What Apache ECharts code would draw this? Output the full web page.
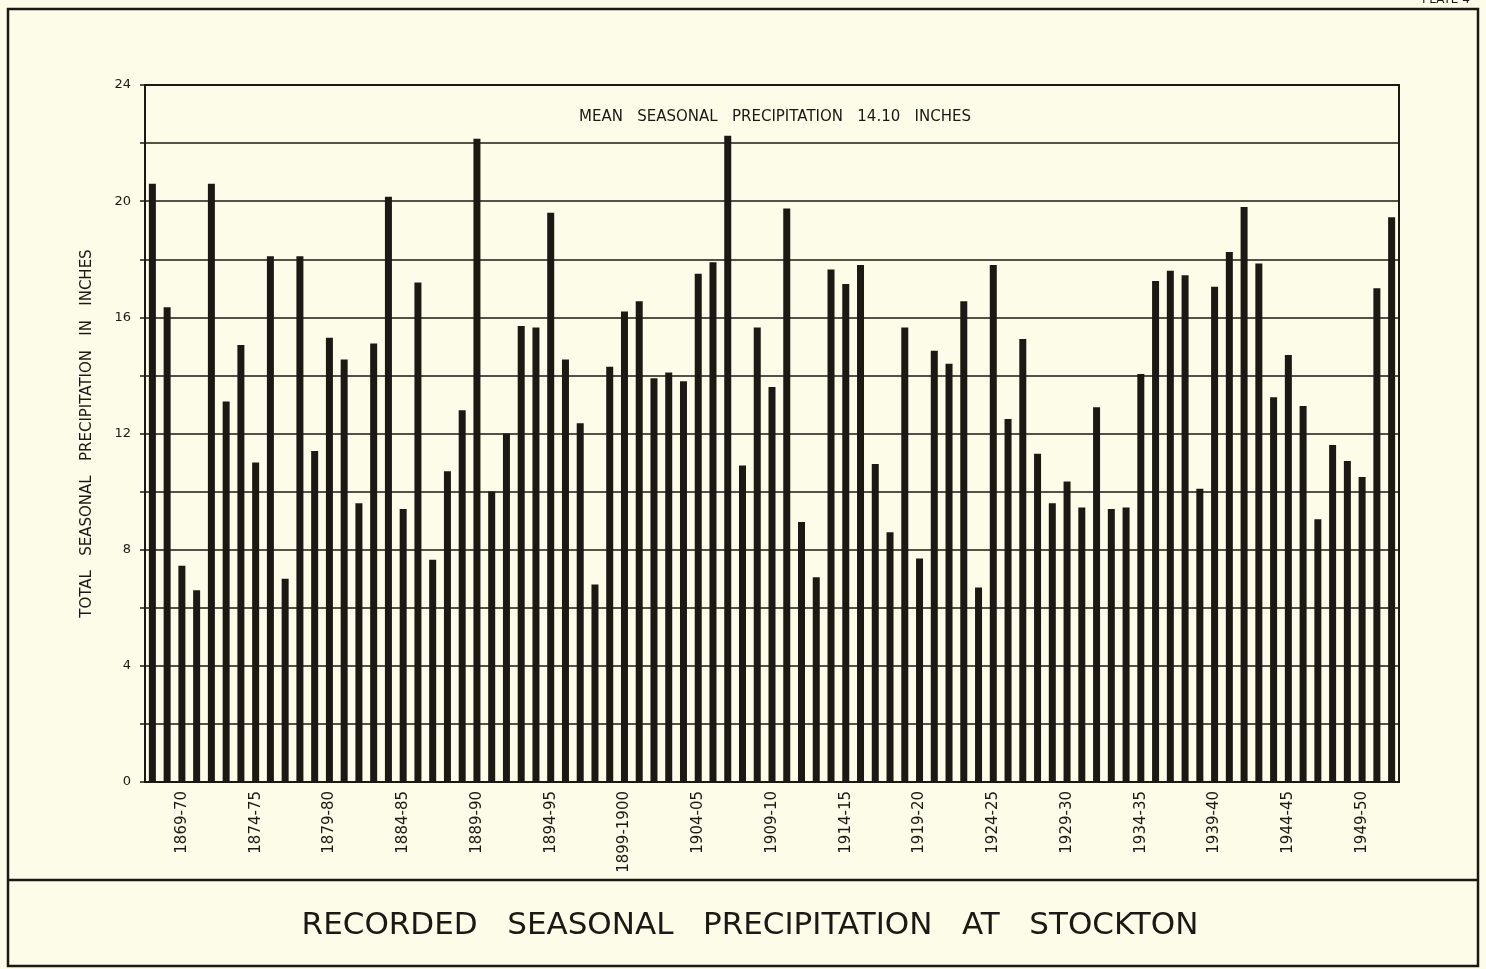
<!DOCTYPE html>
<html>
<head>
<meta charset="utf-8">
<title>Recorded seasonal precipitation at Stockton</title>
<script src="https://cdn.jsdelivr.net/npm/echarts@6/dist/echarts.min.js"></script>
<style>
  html, body { margin: 0; padding: 0; background: #fcfce8; }
  #chart { width: 1486px; height: 969px; }
</style>
</head>
<body>
<div id="chart"></div>
<script>
// seasons 1867-68 .. 1951-52
var firstYear = 1867;
var precip = [
  20.6, 16.35, 7.45, 6.6, 20.6, 13.1, 15.05, 11.0, 18.1, 7.0,
  18.1, 11.4, 15.3, 14.55, 9.6, 15.1, 20.15, 9.4, 17.2, 7.65,
  10.7, 12.8, 22.15, 10.0, 12.0, 15.7, 15.65, 19.6, 14.55, 12.35,
  6.8, 14.3, 16.2, 16.55, 13.9, 14.1, 13.8, 17.5, 17.9, 22.25,
  10.9, 15.65, 13.6, 19.75, 8.95, 7.05, 17.65, 17.15, 17.8, 10.95,
  8.6, 15.65, 7.7, 14.85, 14.4, 16.55, 6.7, 17.8, 12.5, 15.25,
  11.3, 9.6, 10.35, 9.45, 12.9, 9.4, 9.45, 14.05, 17.25, 17.6,
  17.45, 10.1, 17.05, 18.25, 19.8, 17.85, 13.25, 14.7, 12.95, 9.05,
  11.6, 11.05, 10.5, 17.0, 19.45
];
var yTicks = [0, 4, 8, 12, 16, 20, 24];
var meanText = 'MEAN   SEASONAL   PRECIPITATION   14.10   INCHES';

var seasons = [];
for (var i = 0; i < precip.length; i++) {
  var y = firstYear + i;
  var next = String(y + 1);
  seasons.push(y + '-' + (next.slice(0, 2) === String(y).slice(0, 2) ? next.slice(2) : next));
}

var font = 'DejaVu Sans';
var ink = '#1c1814';

var chart = echarts.init(document.getElementById('chart'));
chart.setOption({
  backgroundColor: '#fcfce8',
  animation: false,
  textStyle: { fontFamily: font, color: ink },
  title: [
    {
      text: meanText,
      left: 770, top: 105, textAlign: 'center',
      textStyle: { fontFamily: font, fontSize: 15, fontWeight: 'normal', color: ink }
    },
    {
      text: 'RECORDED   SEASONAL   PRECIPITATION   AT   STOCKTON',
      left: 745, top: 905, textAlign: 'center',
      textStyle: { fontFamily: font, fontSize: 31, fontWeight: 'normal', color: ink }
    }
  ],
  graphic: [
    { type: 'rect', shape: { x: 8, y: 9, width: 1470, height: 957 },
      style: { fill: 'none', stroke: ink, lineWidth: 2.5 } },
    { type: 'line', shape: { x1: 8, y1: 880, x2: 1478, y2: 880 },
      style: { stroke: ink, lineWidth: 2.5 } },
    { type: 'text', left: 1422, top: -6,
      style: { text: 'PLATE 4', font: '12px ' + font, fill: ink } }
  ],
  grid: {
    left: 145, right: 87, top: 85, bottom: 187,
    show: true, borderColor: ink, borderWidth: 2, backgroundColor: 'transparent'
  },
  xAxis: {
    type: 'category',
    data: seasons,
    axisLine: { lineStyle: { color: ink, width: 2 } },
    axisTick: { show: false },
    axisLabel: {
      rotate: 90,
      margin: 9,
      fontSize: 15,
      fontFamily: font,
      color: ink,
      interval: function (idx) { return (idx - 2) % 5 === 0; }
    }
  },
  yAxis: {
    type: 'value',
    min: 0, max: 24, interval: 2,
    name: 'TOTAL   SEASONAL   PRECIPITATION   IN   INCHES',
    nameLocation: 'middle',
    nameRotate: 90,
    nameGap: 50,
    nameTextStyle: { fontFamily: font, fontSize: 15, color: ink },
    axisLine: { show: true, lineStyle: { color: ink, width: 2 } },
    axisTick: { show: true, length: 5, lineStyle: { color: ink, width: 1.5 } },
    splitLine: { lineStyle: { color: ink, width: 1.5 } },
    axisLabel: {
      margin: 14,
      fontSize: 13,
      fontFamily: font,
      color: ink,
      formatter: function (v) { return yTicks.indexOf(v) >= 0 ? String(v) : ''; }
    }
  },
  series: [{
    type: 'bar',
    data: precip,
    barWidth: 7,
    itemStyle: { color: ink }
  }]
});
</script>
</body>
</html>
